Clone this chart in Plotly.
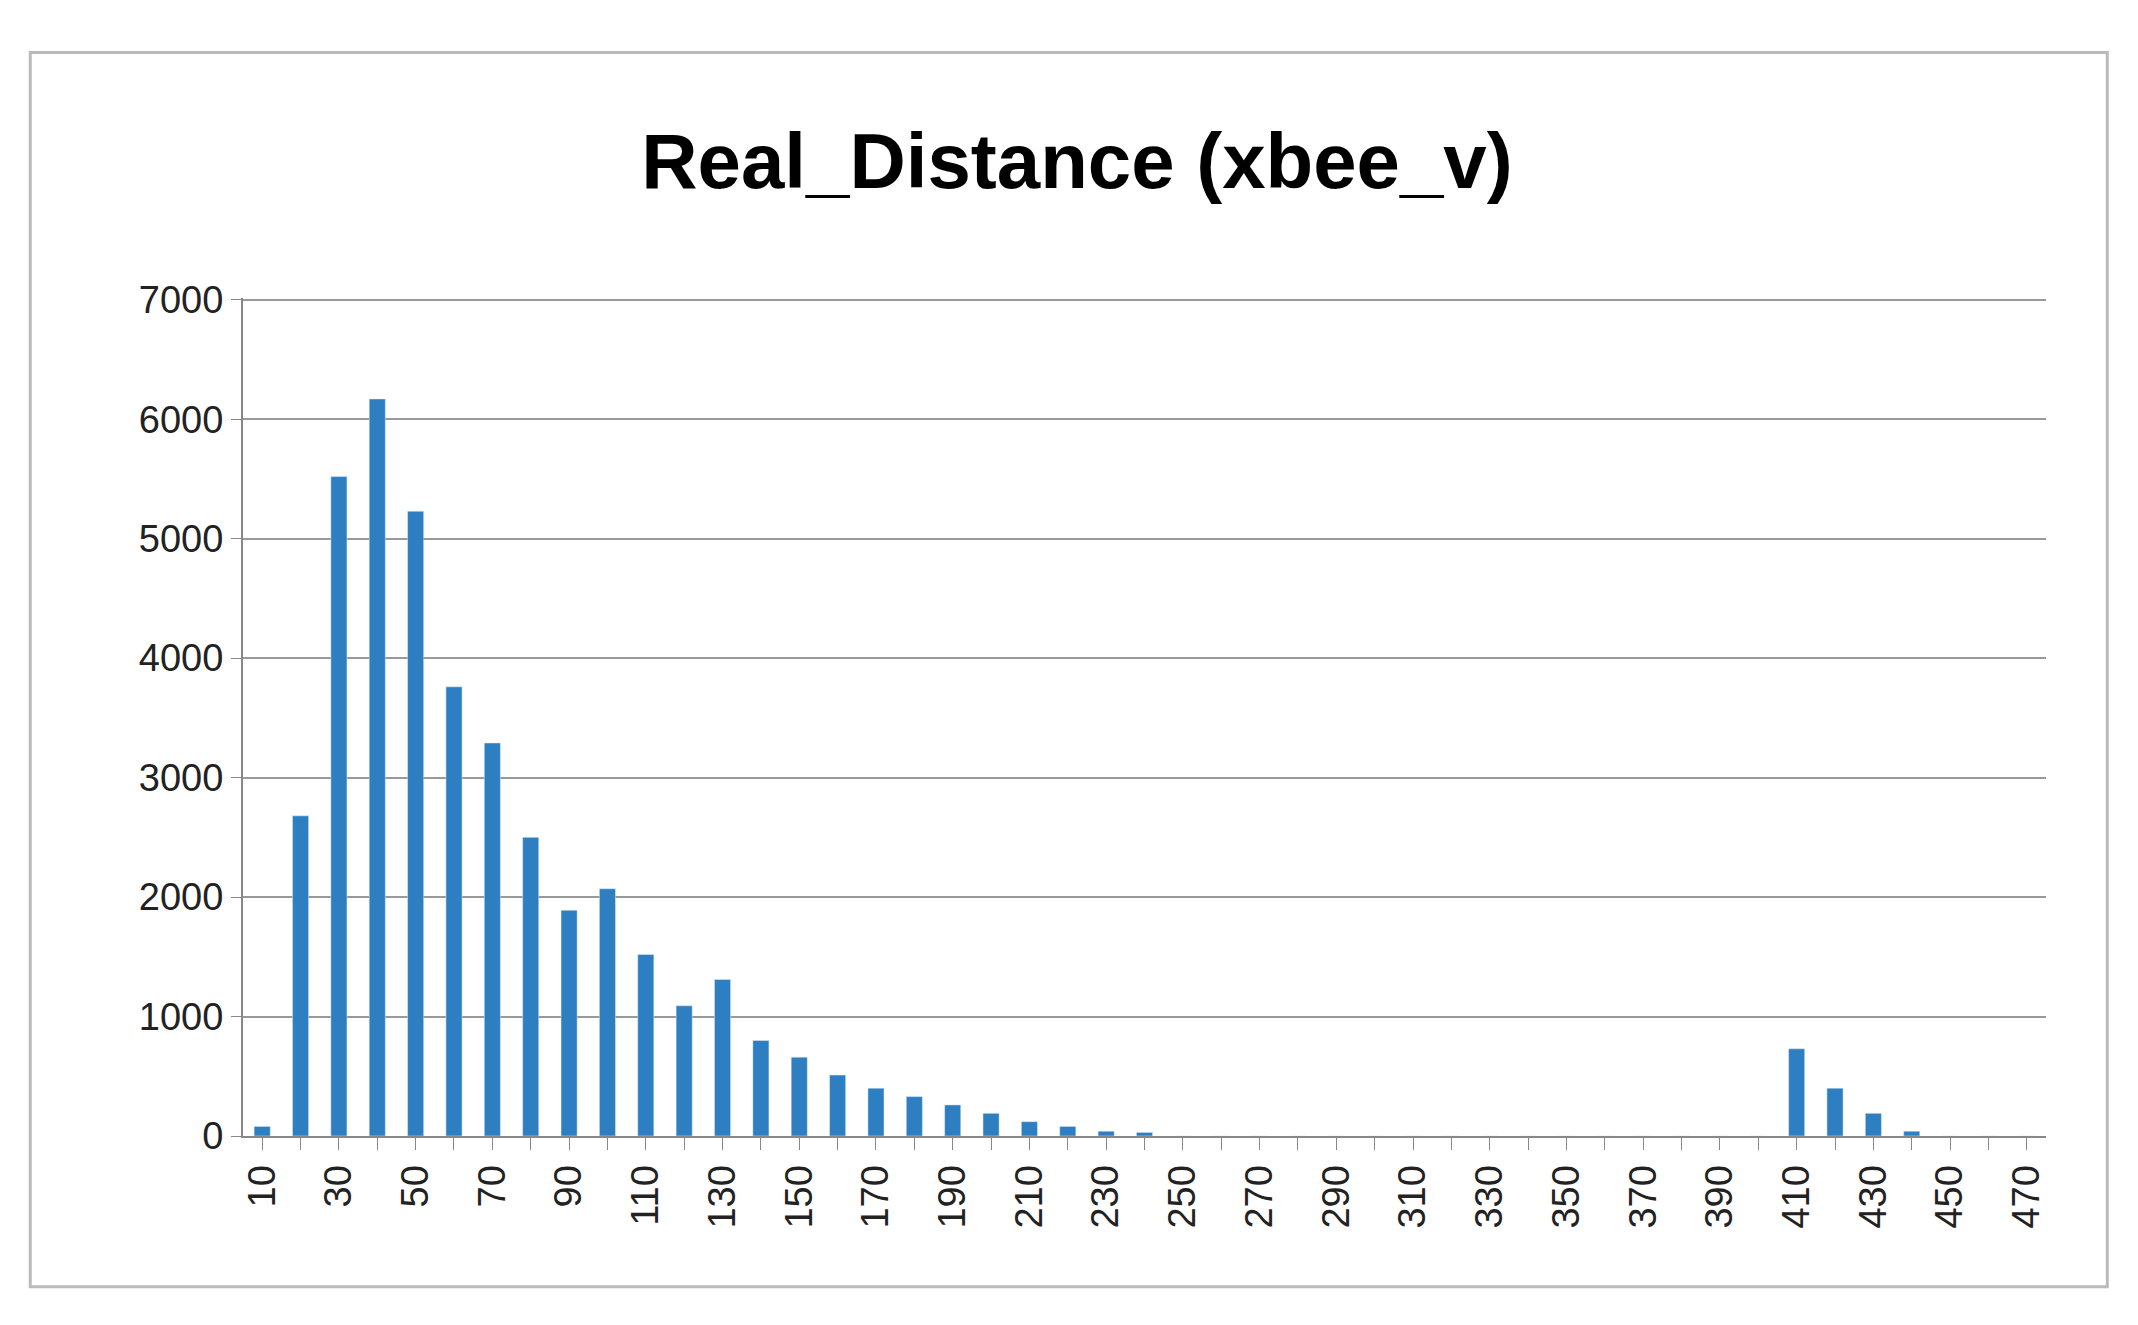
import plotly.graph_objects as go

distance = list(range(10, 480, 10))
counts = [80, 2680, 5520, 6170, 5230, 3760, 3290, 2500, 1890, 2070,
          1520, 1090, 1310, 800, 660, 510, 400, 330, 260, 190,
          120, 80, 40, 30, 0, 0, 0, 0, 0, 0,
          0, 0, 0, 0, 0, 0, 0, 0, 0, 0,
          730, 400, 190, 40, 0, 0, 0]
tick_labels = [str(v) for v in range(10, 480, 20)]

fig = go.Figure(go.Bar(x=distance, y=counts, marker_color="#2E7EC2", width=4.2))
fig.update_layout(
    width=2138, height=1325, paper_bgcolor="white", plot_bgcolor="white",
    margin=dict(l=235, r=100, t=290, b=197),
    title=dict(text="<b>Real_Distance (xbee_v)</b>", x=0.5, xanchor="center", y=0.885, yanchor="middle",
               font=dict(family="Liberation Sans", size=78, color="black")),
    font=dict(family="Liberation Sans", size=38, color="#222"),
    showlegend=False,
    shapes=[dict(type="rect", xref="paper", yref="paper", x0=-0.118, x1=1.034, y0=-0.18, y1=1.293,
                 line=dict(color="#bbbbbb", width=3))],
)
fig.update_xaxes(range=[5, 475], tickvals=list(range(10, 480, 20)), ticktext=tick_labels,
                 tickangle=-90, showline=True, linecolor="#888", linewidth=2,
                 ticks="outside", ticklen=12, tickcolor="#888",
                 minor=dict(tickvals=[v + 5 for v in range(5, 475, 10)], ticks="outside", ticklen=12, tickcolor="#888"),
                 showgrid=False)
fig.update_yaxes(range=[0, 7015], tickvals=list(range(0, 7001, 1000)), showgrid=True,
                 gridcolor="#999", gridwidth=2, showline=True, linecolor="#888", linewidth=2,
                 ticks="outside", ticklen=10, tickcolor="#888", zeroline=False)
fig.write_html("out.html")
